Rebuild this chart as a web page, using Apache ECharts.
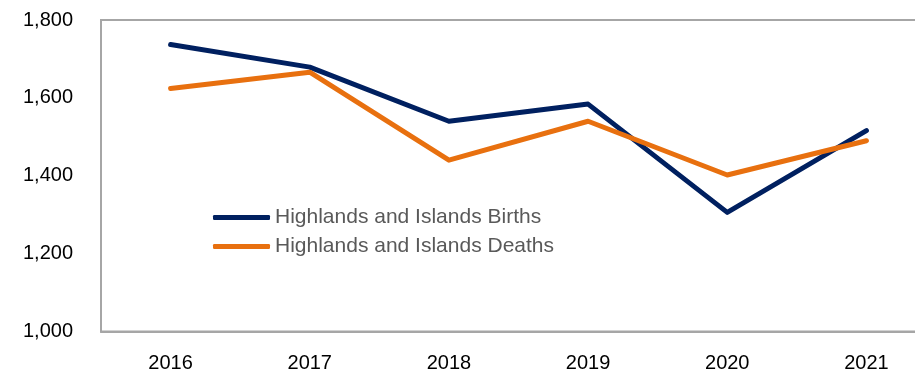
<!DOCTYPE html>
<html><head><meta charset="utf-8">
<script src="https://cdn.jsdelivr.net/npm/echarts@6/dist/echarts.min.js"></script>
<style>html,body{margin:0;padding:0;background:#fff;overflow:hidden}#c{width:942px;height:374px}</style>
</head><body><div id="c"></div>
<script>
var years = ['2016','2017','2018','2019','2020','2021'];
var births = [1737, 1679, 1540, 1584, 1306, 1516];
var deaths = [1624, 1666, 1440, 1540, 1402, 1490];
var yTicks = [1000, 1200, 1400, 1600, 1800];

var chart = echarts.init(document.getElementById('c'));
chart.setOption({
  animation: false,
  textStyle: {fontFamily: 'Liberation Sans'},
  grid: {left: 101, top: 20, right: 6, height: 311.5, show: true, borderColor: '#a6a6a6', borderWidth: 2, backgroundColor: 'transparent'},
  legend: {
    orient: 'vertical', left: 208, top: 202, itemWidth: 57, itemHeight: 5, itemGap: 8,
    textStyle: {color: '#595959', fontSize: 21, fontFamily: 'Liberation Sans'},
    icon: 'roundRect',
    data: ['Highlands and Islands Births', 'Highlands and Islands Deaths']
  },
  xAxis: {
    type: 'category', data: years, boundaryGap: true,
    axisLine: {show: true, lineStyle: {color: '#a6a6a6', width: 2}},
    axisTick: {show: false},
    axisLabel: {color: '#000', fontSize: 20, margin: 22}
  },
  yAxis: {
    type: 'value', min: yTicks[0], max: yTicks[yTicks.length-1], interval: 200,
    axisLine: {show: true, lineStyle: {color: '#a6a6a6', width: 2}},
    splitLine: {show: false},
    axisTick: {show: false},
    axisLabel: {color: '#000', fontSize: 20, margin: 28, formatter: function(v){return v.toLocaleString('en-US');}}
  },
  series: [
    {name: 'Highlands and Islands Births', type: 'line', data: births, symbol: 'none',
     lineStyle: {color: '#002060', width: 5, cap: 'round', join: 'round'}, itemStyle: {color: '#002060'}},
    {name: 'Highlands and Islands Deaths', type: 'line', data: deaths, symbol: 'none',
     lineStyle: {color: '#E8700F', width: 5, cap: 'round', join: 'round'}, itemStyle: {color: '#E8700F'}}
  ]
});
</script></body></html>
